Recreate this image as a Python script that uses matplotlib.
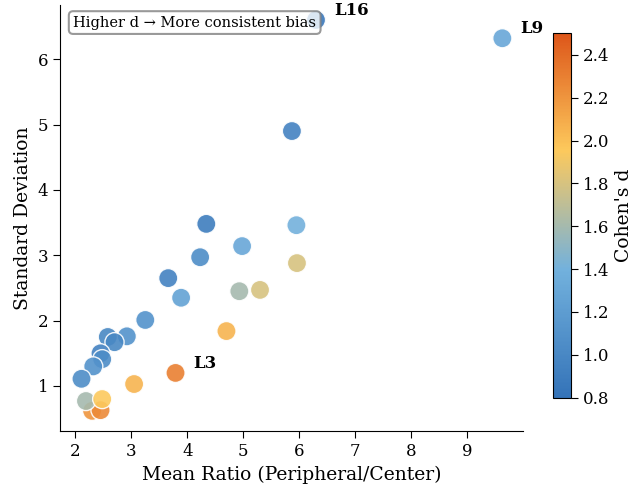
import matplotlib
matplotlib.use("Agg")
import matplotlib.pyplot as plt
from matplotlib.colors import LinearSegmentedColormap

# Per-layer stats
mean_ratio = [6.30, 9.63, 5.87, 4.34, 5.95, 4.98, 4.23, 5.96, 3.66, 3.89,
              4.93, 5.30, 3.25, 4.70, 2.92, 2.58, 2.70, 2.45, 2.48, 2.32,
              2.11, 3.79, 3.05, 2.30, 2.45, 2.19, 2.48]
std_dev = [6.60, 6.32, 4.90, 3.48, 3.46, 3.14, 2.97, 2.88, 2.65, 2.35,
           2.45, 2.47, 2.01, 1.84, 1.76, 1.75, 1.67, 1.50, 1.41, 1.30,
           1.11, 1.20, 1.03, 0.62, 0.63, 0.77, 0.80]
cohens_d = [0.85, 1.30, 0.95, 0.90, 1.40, 1.30, 1.05, 1.80, 0.95, 1.25,
            1.60, 1.80, 1.10, 2.05, 1.10, 1.00, 1.00, 0.95, 1.05, 1.10,
            1.05, 2.30, 2.05, 2.20, 2.25, 1.60, 1.95]
layer_names = ["L16", "L9", "", "", "", "", "", "", "", "",
               "", "", "", "", "", "", "", "", "", "",
               "", "L3", "", "", "", "", ""]

cmap = LinearSegmentedColormap.from_list(
    "bias", [(0.0, "#3473b8"), (0.35, "#72b1dd"), (0.68, "#fdc95c"), (1.0, "#dd561a")])

plt.rcParams["font.family"] = "DejaVu Serif"

fig = plt.figure(figsize=(6.34, 4.91), dpi=100)
ax = fig.add_axes([0.095, 0.122, 0.73, 0.868])
cax = fig.add_axes([0.872, 0.19, 0.029, 0.742])

sc = ax.scatter(mean_ratio, std_dev, c=cohens_d, cmap=cmap, vmin=0.8, vmax=2.5,
                s=190, alpha=0.9, edgecolors="white", linewidths=1)

for x, y, name in zip(mean_ratio, std_dev, layer_names):
    if name:
        ax.annotate(name, (x, y), xytext=(13, 1), textcoords="offset points",
                    fontsize=12, fontweight="bold", ha="left", va="bottom")

ax.text(0.028, 0.975, "Higher d \u2192 More consistent bias", transform=ax.transAxes,
        fontsize=10.5, va="top", ha="left",
        bbox=dict(boxstyle="round,pad=0.3", facecolor="white", edgecolor="gray",
                  linewidth=1.5, alpha=0.8))

ax.set_xlim(1.73, 10.0)
ax.set_ylim(0.31, 6.83)
ax.set_xticks(range(2, 10))
ax.set_xlabel("Mean Ratio (Peripheral/Center)", fontsize=13.5)
ax.set_ylabel("Standard Deviation", fontsize=13.5)
ax.tick_params(labelsize=12, length=5)
ax.spines["top"].set_visible(False)
ax.spines["right"].set_visible(False)

cb = fig.colorbar(sc, cax=cax)
cb.set_label("Cohen's d", fontsize=13.5, labelpad=4)
cb.ax.tick_params(labelsize=12, length=5)
cb.solids.set_alpha(1)

fig.savefig("out.png", dpi=100)
